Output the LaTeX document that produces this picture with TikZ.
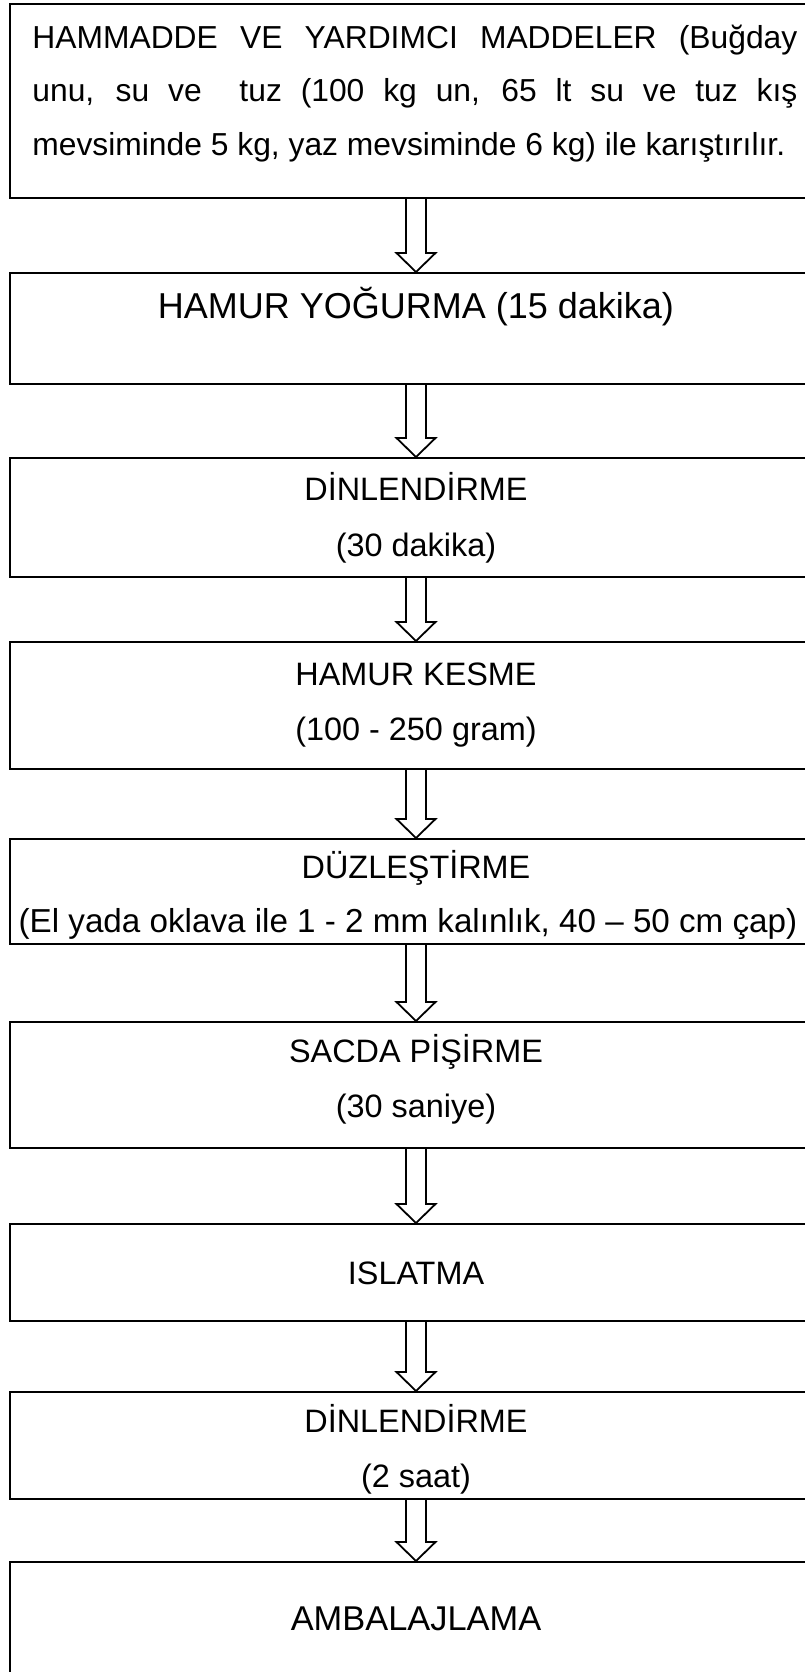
\documentclass[tikz,border=0pt]{standalone}
\usepackage{fontspec}
\setmainfont{Liberation Sans}
\begin{document}
\begin{tikzpicture}[x=0.5pt,y=-0.5pt,
  stage/.style={draw=black, line width=1pt, rectangle, inner sep=0pt, minimum width=406pt},
  lbl/.style={inner sep=0pt, anchor=base, font=\fontsize{16.2}{27}\selectfont},
  lblbig/.style={lbl, font=\fontsize{18}{27}\selectfont},
  lbltop/.style={lbl, anchor=base west, font=\fontsize{15.9}{27}\selectfont},
  flow/.style={draw=black, line width=0.9pt, line join=miter}]
\useasboundingbox (0,0) rectangle (804,1672);
\fill[white] (0,0) rectangle (804,1672);
% boxes
\node[stage, minimum height=97pt]   (b1) at (416,101)    {};
\node[stage, minimum height=55.5pt] (b2) at (416,328.5)  {};
\node[stage, minimum height=59.5pt] (b3) at (416,517.5)  {};
\node[stage, minimum height=63.5pt] (b4) at (416,705.5)  {};
\node[stage, minimum height=52.5pt] (b5) at (416,891.5)  {};
\node[stage, minimum height=63pt]   (b6) at (416,1085)   {};
\node[stage, minimum height=48.5pt] (b7) at (416,1272.5) {};
\node[stage, minimum height=53.5pt] (b8) at (416,1445.5) {};
\node[stage, minimum height=71.5pt] (b9) at (416,1633.5) {};
% texts
\node[lbltop] (t1a) at (32,48) {\makebox[382.5pt][s]{HAMMADDE VE YARDIMCI MADDELER (Buğday}};
\node[lbltop] (t1b) at (32,101.5) {\makebox[382.5pt][s]{unu, su ve\ \ tuz (100 kg un, 65 lt su ve tuz kış}};
\node[lbltop] (t1c) at (32,155) {mevsiminde 5 kg, yaz mevsiminde 6 kg) ile karıştırılır.};
\node[lblbig] (t2) at (416,318) {HAMUR YOĞURMA (15 dakika)};
\node[lbl] (t3a) at (416,500) {DİNLENDİRME};
\node[lbl] (t3b) at (416,556) {(30 dakika)};
\node[lbl] (t4a) at (416,685) {HAMUR KESME};
\node[lbl] (t4b) at (416,740) {(100 - 250 gram)};
\node[lbl] (t5a) at (416,878) {DÜZLEŞTİRME};
\node[lbl, font=\fontsize{16.6}{27}\selectfont] (t5b) at (408,932) {(El yada oklava ile 1 - 2 mm kalınlık, 40 – 50 cm çap)};
\node[lbl] (t6a) at (416,1062) {SACDA PİŞİRME};
\node[lbl] (t6b) at (416,1117) {(30 saniye)};
\node[lbl] (t7) at (416,1284) {ISLATMA};
\node[lbl] (t8a) at (416,1432) {DİNLENDİRME};
\node[lbl] (t8b) at (416,1487) {(2 saat)};
\node[lbl, font=\fontsize{17.2}{27}\selectfont] (t9) at (416,1630) {AMBALAJLAMA};
% arrows
\foreach \a/\b in {b1/b2,b2/b3,b3/b4,b4/b5,b5/b6,b6/b7,b7/b8,b8/b9}{
  \draw[flow] ([xshift=-5pt]\a.south) -- ([xshift=-5pt,yshift=9.5pt]\b.north)
    -- ([xshift=-9.75pt,yshift=9.5pt]\b.north) -- (\b.north)
    -- ([xshift=9.75pt,yshift=9.5pt]\b.north) -- ([xshift=5pt,yshift=9.5pt]\b.north)
    -- ([xshift=5pt]\a.south);
}
\end{tikzpicture}
\end{document}
